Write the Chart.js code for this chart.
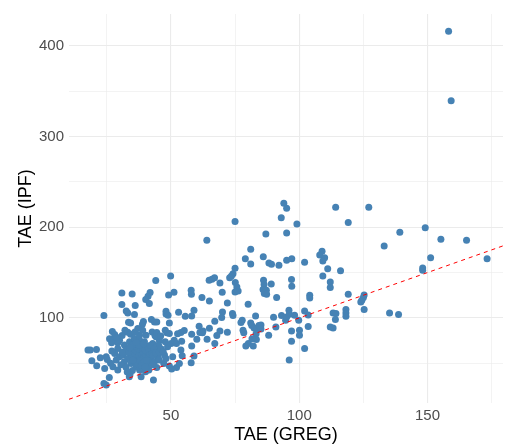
<!DOCTYPE html>
<html>
<head>
<meta charset="utf-8">
<script src="https://cdn.jsdelivr.net/npm/chart.js@4/dist/chart.umd.min.js"></script>
<style>
html,body{margin:0;padding:0;background:#fff;}
#c{display:block;}
</style>
</head>
<body>
<canvas id="c" width="507" height="446"></canvas>
<script>
// TAE (GREG) values, x axis
const greg = [
  94.0,95.1,93.0,99.1,75.0,64.0,87.0,95.1,81.1,79.0,
  81.1,86.0,88.2,89.2,92.1,95.1,97.1,102.1,108.9,108.0,
  109.9,109.2,75.0,74.2,73.6,72.9,66.0,67.0,64.9,69.1,
  75.1,75.7,75.0,76.2,70.0,57.9,58.0,62.1,65.0,72.0,
  80.1,86.1,86.3,85.9,87.2,86.4,87.3,89.1,91.2,97.0,
  97.1,59.0,58.1,70.1,69.8,67.1,74.0,74.2,77.8,77.3,
  83.0,81.1,61.0,62.5,61.3,62.3,65.0,69.1,67.9,72.0,
  78.1,78.4,81.5,82.4,83.4,84.3,85.1,85.1,83.2,88.1,
  83.3,81.6,80.2,79.2,82.1,90.0,93.1,96.0,96.2,98.2,
  99.8,90.9,94.7,97.0,97.0,100.1,100.1,96.1,102.1,103.5,
  102.1,103.5,54.2,58.1,58.1,59.0,57.9,60.1,64.1,67.1,
  159.2,158.2,114.2,127.1,119.1,149.1,139.2,133.1,155.2,165.2,
  151.2,173.2,148.1,148.1,111.1,116.1,109.2,112.1,112.1,104.1,
  104.1,119.1,125.3,125.0,124.4,124.0,125.3,135.2,138.7,118.2,
  118.2,118.2,113.2,114.3,114.1,112.1,113.2,95.1,49.9,44.1,
  30.9,34.9,41.9,41.1,40.2,49.1,51.2,30.9,36.1,41.6,
  32.6,33.2,35.8,23.9,48.1,48.1,48.9,53.0,55.6,42.4,
  43.6,44.5,39.3,38.9,33.5,34.3,49.4,27.2,28.1,32.1,
  33.2,34.3,42.7,43.8,47.8,48.4,49.4,52.6,53.9,55.2,
  26.1,27.7,18.6,17.7,21.0,19.2,21.1,24.2,24.8,25.2,
  26.0,23.9,24.8,26.9,29.3,29.3,28.1,30.0,28.7,27.4,
  29.3,33.8,34.1,37.8,40.1,38.4,43.2,41.4,44.5,47.2,
  49.4,50.3,52.2,53.3,54.4,53.9,50.7,47.5,48.1,44.9,
  44.2,48.7,47.8,50.1,51.3,52.2,45.5,44.2,42.9,41.6,
  45.2,30.0,31.9,33.9,35.8,37.8,39.7,37.8,40.3,39.0,
  37.1,32.6,31.3,33.2,31.9,34.5,36.5,39.0,41.0,42.3,
  43.6,36.0,36.8,37.5,38.2,38.8,39.5,40.2,40.8,41.5,
  37.0,38.0,39.2,40.5,41.8,42.5,43.0,36.2,35.5,37.2,
  39.0,40.0,41.2,42.0,43.5,36.0,34.8,35.2,38.5,40.0,
  42.8,44.0,45.5,46.2,37.5,39.5,35.0,33.5,34.0,36.5,
  29.0,31.0,36.0,44.5,46.0,31.0,27.0,26.5,22.5,30.5,
  32.5,35.0,33.0,45.5,47.0
];
// TAE (IPF) values, y axis
const ipf = [
  226.5,221.0,210.4,203.4,206.4,185.5,192.4,193.5,175.6,165.3,
  159.4,167.5,160.5,159.1,158.0,163.5,165.3,161.3,173.4,169.3,
  166.4,162.7,154.7,148.8,146.2,144.4,142.6,144.4,141.5,138.5,
  138.9,134.1,128.6,129.7,128.3,130.5,126.1,122.4,118.7,116.5,
  115.1,141.5,136.7,131.2,130.5,126.8,126.1,137.4,122.4,142.2,
  134.9,108.5,102.2,106.6,100.4,96.4,104.8,102.6,97.5,94.9,
  102.2,94.5,90.9,85.7,83.9,83.5,88.7,85.7,80.6,84.3,
  86.5,83.5,91.6,89.0,87.2,91.6,92.3,87.9,82.4,81.0,
  76.2,76.9,71.8,68.9,68.9,100.8,102.6,108.5,104.1,103.0,
  97.5,90.1,97.5,85.7,74.4,86.5,81.0,53.5,66.3,90.5,
  107.7,103.3,74.4,82.1,68.9,57.9,50.5,76.6,76.6,71.8,
  339.5,416.1,222.1,222.1,205.3,199.4,194.3,179.2,186.6,185.5,
  166.4,165.3,155.0,152.5,154.3,152.1,146.2,139.5,133.4,125.0,
  122.0,126.1,125.3,122.4,119.5,117.6,109.2,105.5,103.7,109.2,
  105.5,101.9,105.5,104.8,98.2,90.1,89.0,101.1,146.2,141.1,
  127.5,126.4,127.9,123.9,120.2,125.3,128.3,114.7,113.6,115.8,
  107.7,105.5,103.7,102.6,107.4,104.4,103.0,106.3,101.9,98.2,
  95.6,95.6,96.0,93.1,95.3,94.5,94.5,85.0,81.7,86.5,
  84.3,82.1,84.6,80.6,86.5,83.5,82.8,82.4,83.9,86.1,
  76.9,75.5,64.5,64.5,65.2,52.7,47.2,44.3,57.1,54.2,
  34.4,27.8,26.0,72.5,72.5,66.3,60.8,57.1,53.5,46.1,
  42.5,35.1,38.1,42.5,40.6,35.1,31.5,42.5,45.4,49.8,
  46.9,43.6,45.4,49.8,58.2,64.5,57.1,59.0,55.3,57.1,
  64.5,68.1,73.6,71.8,75.5,71.8,75.5,79.1,71.8,68.9,
  70.0,75.5,70.0,73.6,77.3,75.5,73.6,81.0,81.0,86.5,
  88.3,64.5,59.0,55.3,51.6,49.8,46.1,44.3,48.0,53.5,
  51.6,52.0,55.5,58.0,61.0,63.5,56.0,59.5,62.5,57.5,
  49.5,52.5,50.0,53.0,60.5,63.0,58.5,60.0,63.5,66.0,
  67.5,65.0,66.5,69.5,66.0,68.5,58.0,53.5,47.5,45.5,
  48.5,61.5,62.5,66.0,70.0,71.5,70.5,62.0,67.0,73.0,
  78.5,80.5,84.5,84.0,80.0,62.5,63.5,50.0,56.0,48.5,
  45.5,42.0,40.5,53.5,63.0
];
// axis ticks
const xTicks = [50, 100, 150];
const xTickLabels = ['50', '100', '150'];
const xMinorTicks = [25, 75, 125, 175];
const yTicks = [100, 200, 300, 400];
const yTickLabels = ['100', '200', '300', '400'];
const yMinorTicks = [50, 150, 250, 350];
const xRange = [10.3, 179.4];
const yRange = [6.2, 435];
// identity reference line y = x
const refLine = [xRange[0], xRange[1]];

const points = greg.map((g, i) => ({x: g, y: ipf[i]}));
const FONT = '"Liberation Sans", Arial, sans-serif';

function tickSet(major, minor) {
  return major.concat(minor).sort((a, b) => a - b).map(v => ({value: v}));
}

new Chart(document.getElementById('c'), {
  type: 'scatter',
  data: {
    datasets: [
      {
        type: 'line',
        data: refLine.map(v => ({x: v, y: v})),
        borderColor: '#FF0000',
        borderWidth: 1,
        borderDash: [4, 4],
        pointRadius: 0,
        fill: false,
        order: 0
      },
      {
        data: points,
        backgroundColor: '#4682B4',
        borderWidth: 0,
        pointRadius: 3.5,
        order: 1
      }
    ]
  },
  options: {
    responsive: false,
    animation: false,
    devicePixelRatio: 1,
    layout: {padding: {top: 13, right: 2, bottom: 0, left: 0}},
    plugins: {legend: {display: false}, tooltip: {enabled: false}},
    scales: {
      x: {
        type: 'linear',
        min: xRange[0], max: xRange[1],
        afterBuildTicks: s => { s.ticks = tickSet(xTicks, xMinorTicks); },
        afterFit: s => { s.height = 43; },
        border: {display: false},
        grid: {
          color: '#EBEBEB',
          drawTicks: false,
          lineWidth: c => (c.tick && xTicks.includes(c.tick.value)) ? 1.1 : 0.6
        },
        ticks: {
          autoSkip: false, maxRotation: 0, padding: 4,
          color: '#4D4D4D',
          font: {family: FONT, size: 15},
          callback: v => { const i = xTicks.indexOf(v); return i >= 0 ? xTickLabels[i] : ''; }
        },
        title: {
          display: true, text: 'TAE (GREG)', color: '#000',
          font: {family: FONT, size: 18},
          padding: {top: 0, bottom: 0}
        }
      },
      y: {
        type: 'linear',
        min: yRange[0], max: yRange[1],
        afterBuildTicks: s => { s.ticks = tickSet(yTicks, yMinorTicks); },
        afterFit: s => { s.width = 69; },
        border: {display: false},
        grid: {
          color: '#EBEBEB',
          drawTicks: false,
          lineWidth: c => (c.tick && yTicks.includes(c.tick.value)) ? 1.1 : 0.6
        },
        ticks: {
          autoSkip: false, padding: 5,
          color: '#4D4D4D',
          font: {family: FONT, size: 15},
          callback: v => { const i = yTicks.indexOf(v); return i >= 0 ? yTickLabels[i] : ''; }
        },
        title: {
          display: true, text: 'TAE (IPF)', color: '#000',
          font: {family: FONT, size: 18},
          padding: {top: 15, bottom: 0}
        }
      }
    }
  }
});
</script>
</body>
</html>
